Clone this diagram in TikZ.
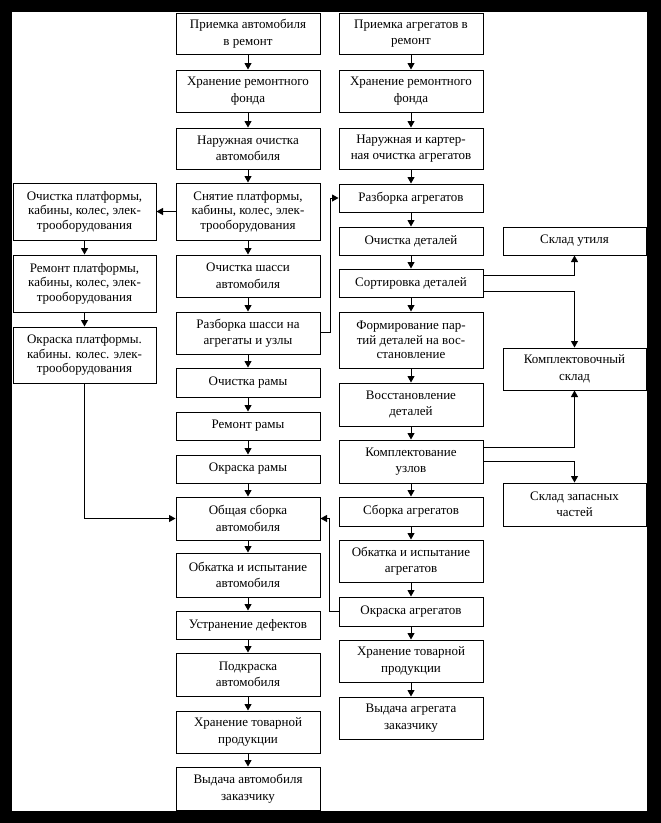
\documentclass[tikz,border=0pt]{standalone}
\usepackage{fontspec}
\setmainfont{Liberation Serif}
\usetikzlibrary{arrows.meta,calc}
\tikzset{
  box/.style={draw=black, line width=1pt, align=center, inner sep=0pt, fill=white,
    font=\fontsize{13}{16.5}\selectfont},
  boxt/.style={box, font=\fontsize{13}{14.5}\selectfont},
  arr/.style={line width=1pt, -{Triangle[length=6.5pt,width=7pt]}},
}
\begin{document}
\begin{tikzpicture}[x=1pt,y=-1pt]
\useasboundingbox (0,0) rectangle (661,823);
\fill[black] (0,0) rectangle (661,823);
\fill[white] (12,12) rectangle (647,811);
% centre column
\node[box,minimum width=144,minimum height=41] (C1) at (248,33.5) {Приемка автомобиля\\в ремонт};
\node[box,minimum width=144,minimum height=42] (C2) at (248,91) {Хранение ремонтного\\фонда};
\node[box,minimum width=144,minimum height=41] (C3) at (248,148.5) {Наружная очистка\\автомобиля};
\node[boxt,minimum width=144,minimum height=57] (C4) at (248,211.5) {Снятие платформы,\\кабины, колес, элек-\\трооборудования};
\node[box,minimum width=144,minimum height=42] (C5) at (248,276) {Очистка шасси\\автомобиля};
\node[box,minimum width=144,minimum height=42] (C6) at (248,333) {Разборка шасси на\\агрегаты и узлы};
\node[box,minimum width=144,minimum height=29] (C7) at (248,382.5) {Очистка рамы};
\node[box,minimum width=144,minimum height=28] (C8) at (248,426) {Ремонт рамы};
\node[box,minimum width=144,minimum height=28] (C9) at (248,469) {Окраска рамы};
\node[box,minimum width=144,minimum height=43] (C10) at (248,518.5) {Общая сборка\\автомобиля};
\node[box,minimum width=144,minimum height=44] (C11) at (248,575) {Обкатка и испытание\\автомобиля};
\node[box,minimum width=144,minimum height=28] (C12) at (248,625) {Устранение дефектов};
\node[box,minimum width=144,minimum height=43] (C13) at (248,674.5) {Подкраска\\автомобиля};
\node[box,minimum width=144,minimum height=42] (C14) at (248,732) {Хранение товарной\\продукции};
\node[box,minimum width=144,minimum height=43] (C15) at (248,788.5) {Выдача автомобиля\\заказчику};
% left column
\node[boxt,minimum width=143,minimum height=57] (L1) at (84.5,211.5) {Очистка платформы,\\кабины, колес, элек-\\трооборудования};
\node[boxt,minimum width=143,minimum height=57] (L2) at (84.5,283.5) {Ремонт платформы,\\кабины, колес, элек-\\трооборудования};
\node[boxt,minimum width=143,minimum height=56] (L3) at (84.5,355) {Окраска платформы.\\кабины. колес. элек-\\трооборудования};
% right column
\node[box,minimum width=144,minimum height=41] (R1) at (411,33.5) {Приемка агрегатов в\\ремонт};
\node[box,minimum width=144,minimum height=42] (R2) at (411,91) {Хранение ремонтного\\фонда};
\node[box,minimum width=144,minimum height=41] (R3) at (411,148.5) {Наружная и картер-\\ная очистка агрегатов};
\node[box,minimum width=144,minimum height=28] (R4) at (411,198) {Разборка агрегатов};
\node[box,minimum width=144,minimum height=28] (R5) at (411,241) {Очистка деталей};
\node[box,minimum width=144,minimum height=28] (R6) at (411,283) {Сортировка деталей};
\node[boxt,minimum width=144,minimum height=56] (R7) at (411,340) {Формирование пар-\\тий деталей на вос-\\становление};
\node[box,minimum width=144,minimum height=43] (R8) at (411,404.5) {Восстановление\\деталей};
\node[box,minimum width=144,minimum height=43] (R9) at (411,461.5) {Комплектование\\узлов};
\node[box,minimum width=144,minimum height=29] (R10) at (411,511.5) {Сборка агрегатов};
\node[box,minimum width=144,minimum height=42] (R11) at (411,561) {Обкатка и испытание\\агрегатов};
\node[box,minimum width=144,minimum height=29] (R12) at (411,611.5) {Окраска агрегатов};
\node[box,minimum width=144,minimum height=42] (R13) at (411,661) {Хранение товарной\\продукции};
\node[box,minimum width=144,minimum height=42] (R14) at (411,718) {Выдача агрегата\\заказчику};
% far right column
\node[box,minimum width=143,minimum height=28] (F1) at (574.5,241) {Склад утиля};
\node[box,minimum width=143,minimum height=42] (F2) at (574.5,369) {Комплектовочный\\склад};
\node[box,minimum width=143,minimum height=43] (F3) at (574.5,504.5) {Склад запасных\\частей};
% vertical arrows
\foreach \a/\b in {C1/C2,C2/C3,C3/C4,C4/C5,C5/C6,C6/C7,C7/C8,C8/C9,C9/C10,C10/C11,C11/C12,C12/C13,C13/C14,C14/C15,
  L1/L2,L2/L3,
  R1/R2,R2/R3,R3/R4,R4/R5,R5/R6,R6/R7,R7/R8,R8/R9,R9/R10,R10/R11,R11/R12,R12/R13,R13/R14}
  \draw[arr] (\a.south) -- (\b.north);
% other connectors
\draw[arr] (C4.west) -- (L1.east);
\draw[arr] (L3.south) |- (C10.west);
\draw[arr] ($(C6.east)+(0,-1)$) -- ++(10,0) |- (R4.west);
\draw[arr] (R12.west) -- ++(-9,0) |- (C10.east);
\draw[arr] ($(R6.east)+(0,-8)$) -| (F1.south);
\draw[arr] ($(R6.east)+(0,8)$) -| (F2.north);
\draw[arr] ($(R9.east)+(0,-14)$) -| (F2.south);
\draw[arr] (R9.east) -| (F3.north);
\end{tikzpicture}
\end{document}
